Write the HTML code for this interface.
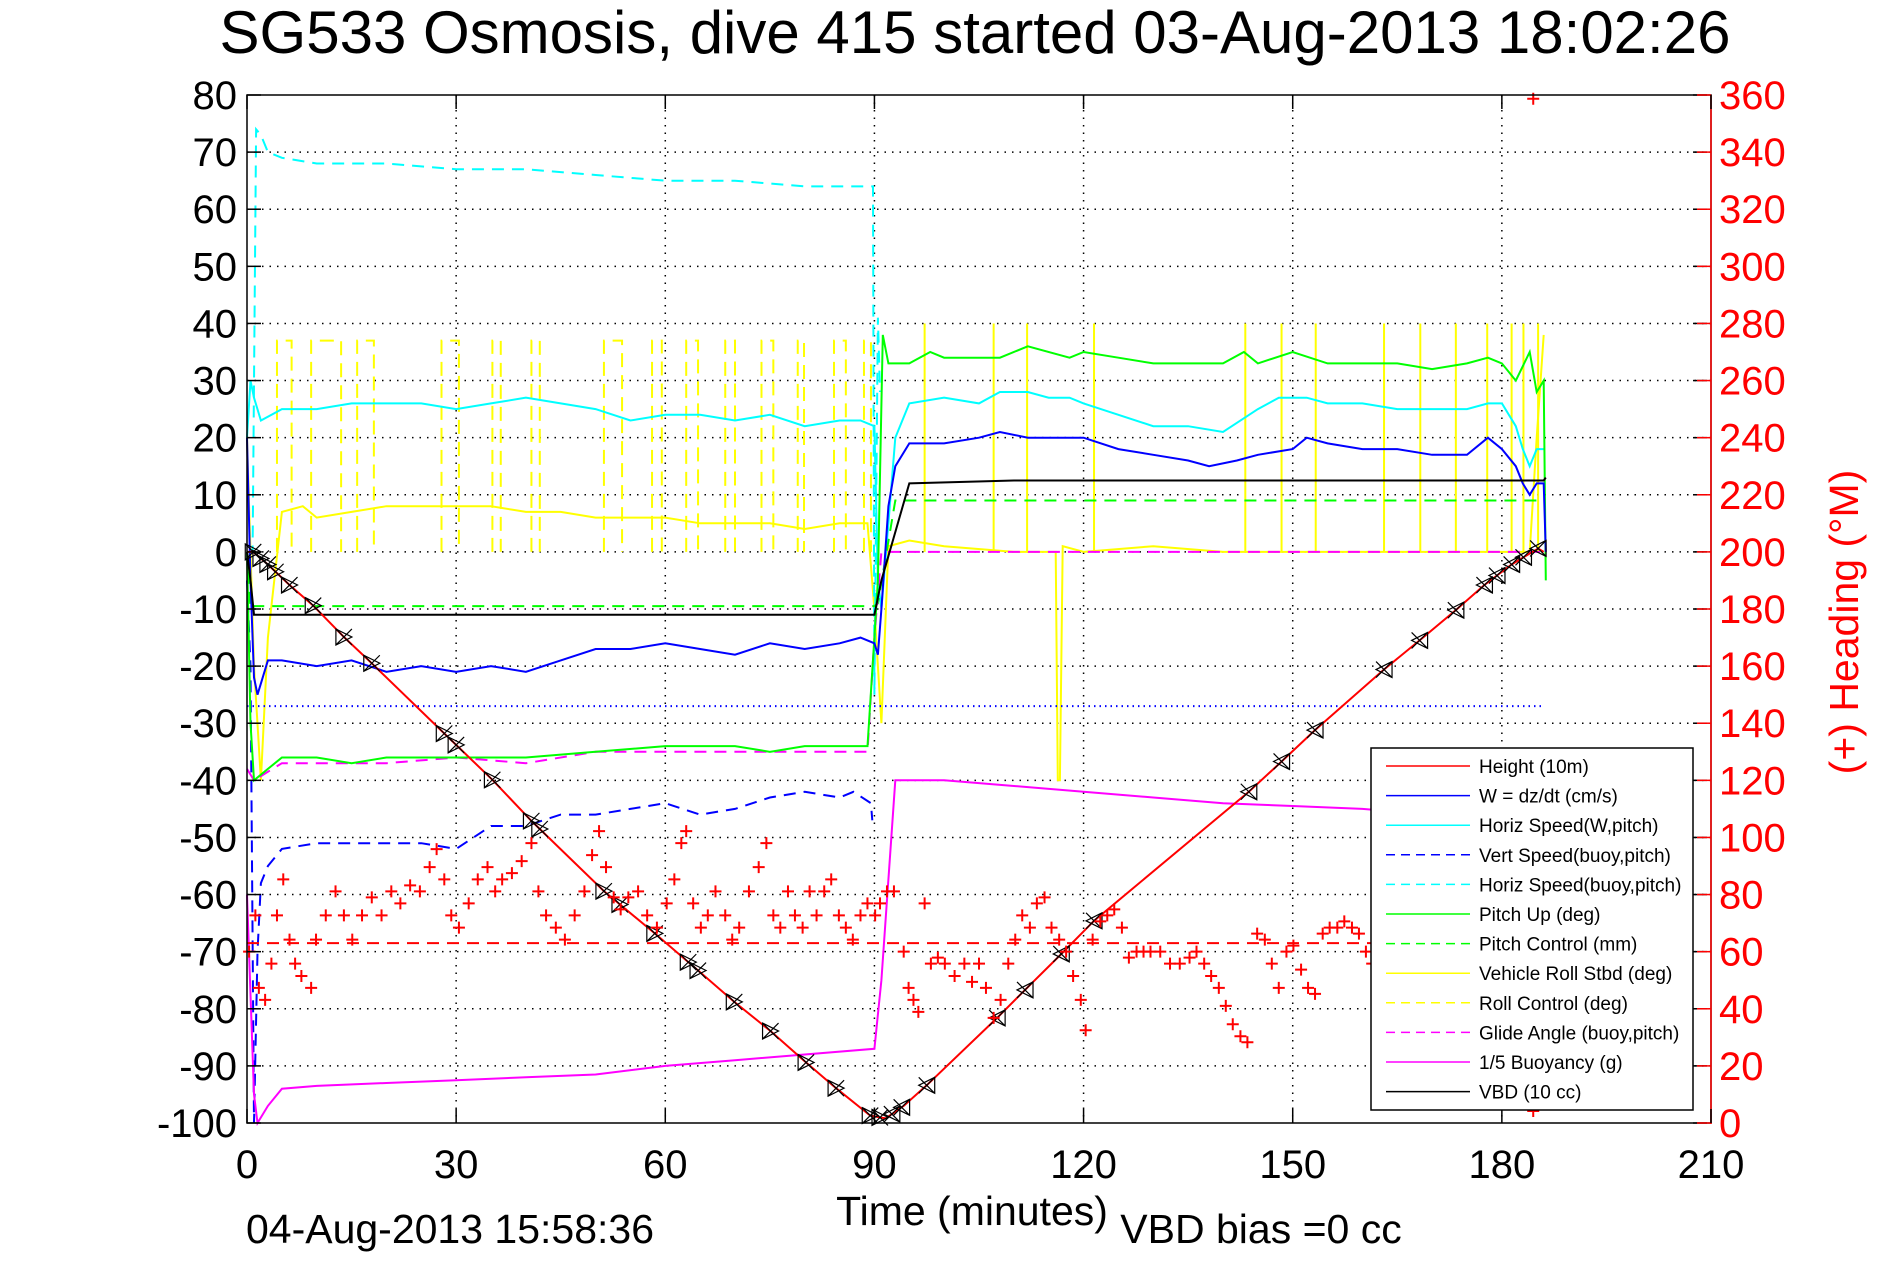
<!DOCTYPE html>
<html><head><meta charset="utf-8"><style>
html,body{margin:0;padding:0;background:#fff;}
svg{display:block;font-family:"Liberation Sans",sans-serif;}
</style></head><body>
<svg id="chart" width="1891" height="1262" viewBox="0 0 1891 1262">
<text x="975" y="53" font-size="60" text-anchor="middle">SG533 Osmosis, dive 415 started 03-Aug-2013 18:02:26</text>
<g id="grid"></g>
<g id="series"></g>
<g id="axes"></g>
<g id="legend"></g>
<text x="972" y="1225" font-size="41" text-anchor="middle">Time (minutes)</text>
<text x="450" y="1243" font-size="41" text-anchor="middle">04-Aug-2013 15:58:36</text>
<text x="1261" y="1243" font-size="41" text-anchor="middle">VBD bias =0 cc</text>
<text transform="translate(1858,622) rotate(-90)" font-size="41" fill="#f00" text-anchor="middle">(+) Heading (°M)</text>
</svg>
<script>
const xTicks=[0,30,60,90,120,150,180,210];
const yTicks=[80,70,60,50,40,30,20,10,0,-10,-20,-30,-40,-50,-60,-70,-80,-90,-100];
const hTicks=[360,340,320,300,280,260,240,220,200,180,160,140,120,100,80,60,40,20,0];

const heightT=[0,0.9,3,6.1,9.5,13.9,17.9,28.3,35.2,40.8,51.2,58.5,64.7,69.9,75.1,80.2,84.5,89.4,91.6,94.2,97.5,107.6,111.6,116.8,121.5,143.7,148.4,153.2,163.1,168.2,173.4,177.5,181.4,185.2,186];
const heightV=[0,0,-2.2,-5.8,-9.4,-14.9,-19.5,-31.8,-39.9,-47.1,-59.4,-66.8,-73.3,-78.8,-83.9,-89.4,-93.9,-98.7,-99.2,-97,-93.4,-81.6,-76.7,-70.4,-64.6,-42,-36.7,-31.2,-20.6,-15.5,-10.2,-5.8,-2.2,0.6,0];
const markerT=[0.9,2,3,4.1,6.1,9.5,13.9,17.9,28.3,30,35.2,40.8,42,51.2,53.5,58.5,63.3,64.7,69.9,75.1,80.2,84.5,89.4,90.8,92.5,93.9,97.5,107.6,111.6,116.8,121.5,143.7,148.4,153.2,163.1,168.2,173.4,177.5,179.3,181.4,183.1,185.2];

const wT=[0,0.5,1,1.5,3,5,10,15,20,25,30,35,40,45,50,55,60,65,70,75,80,85,88,90,90.5,91,92,93,95,100,105,108,112,115,120,125,130,135,138,142,145,150,152,155,160,165,170,175,178,180,182,183,184,185,186,186.3];
const wV=[20,-5,-22,-25,-19,-19,-20,-19,-21,-20,-21,-20,-21,-19,-17,-17,-16,-17,-18,-16,-17,-16,-15,-16,-18,-10,8,15,19,19,20,21,20,20,20,18,17,16,15,16,17,18,20,19,18,18,17,17,20,18,15,12,10,12,12,0];
const vsT=[0,0.5,1,1.5,2,3,5,10,15,20,25,30,35,40,45,50,55,60,65,70,75,80,85,87,89.5,89.7];
const vsV=[-5,-20,-100,-70,-58,-55,-52,-51,-51,-51,-51,-52,-48,-48,-46,-46,-45,-44,-46,-45,-43,-42,-43,-42,-44,-47];
const hsT=[0,0.5,1,2,5,10,15,20,25,30,35,40,45,50,55,60,65,70,75,80,85,88,90,90.5,91,92,93,95,100,105,108,112,115,118,120,125,130,135,140,145,148,152,155,160,165,170,175,178,180,182,183,184,185,186];
const hsV=[20,30,27,23,25,25,26,26,26,25,26,27,26,25,23,24,24,23,24,22,23,23,22,-5,-10,5,20,26,27,26,28,28,27,27,26,24,22,22,21,25,27,27,26,26,25,25,25,26,26,22,18,15,18,18];
const hbT=[0,0.8,1.3,2,3,5,10,20,30,40,50,60,70,80,85,89.8,90,90.5,90.8];
const hbV=[0,0,74,73,70,69,68,68,67,67,66,65,65,64,64,64,-25,41,28];
const pitchT=[0,0.5,1,3,5,10,15,20,30,40,50,60,65,70,75,80,85,89,90,90.5,91.2,92,93,95,98,100,105,108,112,118,120,125,130,140,143,145,150,155,160,165,170,175,178,180,182,184,185,186,186.3];
const pitchV=[0,-30,-40,-38,-36,-36,-37,-36,-36,-36,-35,-34,-34,-34,-35,-34,-34,-34,-15,-5,38,33,33,33,35,34,34,34,36,34,35,34,33,33,35,33,35,33,33,33,32,33,34,33,30,35,28,30,-5];
const pcT=[0,0.5,1,90,90.5,93,186];
const pcV=[0,-10,-9.5,-9.5,-9,9,9];
const glideT=[0,1,5,10,20,30,40,50,60,70,80,89,90,91,186];
const glideV=[-38,-40,-37,-37,-37,-36,-37,-35,-35,-35,-35,-35,-15,0,0];
const buoyT=[0,1,1.5,3,5,10,20,30,40,50,60,70,80,90,91,93,100,110,120,130,140,150,160,165];
const buoyV=[-60,-95,-100,-97,-94,-93.5,-93,-92.5,-92,-91.5,-90,-89,-88,-87,-75,-40,-40,-41,-42,-43,-44,-44.5,-45,-45.5];
const vbdT=[0,0.5,1,90,91,95,110,186,186.3];
const vbdV=[0,-5,-11,-11,-5,12,12.5,12.5,13];
const rollT=[0,0.5,1,2,3,5,8,10,15,20,25,30,35,40,45,50,55,60,65,70,75,80,85,89,90,91,92,95,100,110,116,116.3,116.6,117,120,130,140,150,160,170,180,184,185,186];
const rollV=[20,0,-20,-40,-15,7,8,6,7,8,8,8,8,7,7,6,6,6,5,5,5,4,5,5,-10,-30,1,2,1,0,0,-40,-40,1,0,1,0,0,0,0,0,0,20,38];
const rollPulseDesc=[4.3,6.4,9.2,13.5,15.8,18.2,27.9,30.4,35.2,36.4,40.8,42.0,51.2,53.8,58.1,59.5,63.0,64.7,68.6,70.0,73.8,75.5,79.0,79.9,84.2,85.9,88.5,89.5];
const rollPulseAsc=[97.2,107.1,111.9,121.5,143.2,148.4,153.3,163.1,168.3,173.4,177.9,181.4,183.1,185.2];
const headingMean=63;
const headT=[0.3,1.2,1.7,2.6,3.5,4.3,5.2,6.1,6.9,7.8,9.2,9.9,11.3,12.7,13.9,15.1,16.5,17.9,19.3,20.7,22.0,23.4,24.8,26.2,27.2,28.3,29.3,30.4,31.8,33.1,34.5,35.6,36.6,38.0,39.4,40.8,41.8,42.9,44.3,45.6,47.0,48.4,49.5,50.5,51.5,52.6,53.6,54.7,56.1,57.4,58.8,60.2,61.3,62.3,63.0,64.0,65.1,66.1,67.2,68.6,69.6,70.6,72.0,73.4,74.5,75.5,76.5,77.6,78.6,79.7,80.7,81.7,82.8,83.8,84.9,85.9,86.9,88.0,89.0,90.1,90.8,91.8,92.8,94.2,94.9,95.6,96.3,97.2,98.1,99.1,100.1,101.5,102.9,104.0,105.0,106.0,107.1,108.1,109.2,110.2,111.2,112.3,113.3,114.4,115.4,116.5,117.5,118.5,119.6,120.3,121.3,122.4,123.4,124.4,125.5,126.5,127.6,128.6,129.6,131.0,132.4,133.8,135.2,136.2,137.3,138.3,139.4,140.4,141.4,142.5,143.5,144.9,146.0,147.0,148.0,149.1,150.1,151.2,152.2,153.2,154.3,155.3,156.4,157.4,158.5,159.5,160.5,161.4,184.5,184.5];
const headV=[60,72.7,47.3,43.1,55.8,72.7,85.3,64.2,55.8,51.5,47.3,64.2,72.7,81.1,72.7,64.2,72.7,79,72.7,81.1,76.9,83.2,81.1,89.6,95.9,85.3,72.7,68.4,76.9,85.3,89.6,81.1,85.3,87.5,91.7,98,81.1,72.7,68.4,64.2,72.7,81.1,93.8,102.2,89.6,79,74.8,79,81.1,72.7,68.4,76.9,85.3,98,102.2,76.9,68.4,72.7,81.1,72.7,64.2,68.4,81.1,89.6,98,72.7,68.4,81.1,72.7,68.4,81.1,72.7,81.1,85.3,72.7,68.4,64.2,72.7,76.9,72.7,76.9,81.1,81.1,60,47.3,43.1,38.9,76.9,55.8,57.9,55.8,51.5,55.8,49.4,55.8,47.3,36.8,43.1,55.8,64.2,72.7,68.4,76.9,79,68.4,64.2,60,51.5,43.1,32.5,64.2,70.6,72.7,74.8,68.4,57.9,60,60,60,60,55.8,55.8,57.9,60,55.8,51.5,47.3,41,34.6,30.4,28.3,66.3,64.2,55.8,47.3,60,62.1,53.7,47.3,45.2,66.3,68.4,68.4,70.6,68.4,66.3,60,55.8,358.7,4.2];

const L=247,R=1711,T=95,B=1123;
const X=t=>L+t*(R-L)/210;
const Y=v=>T+(80-v)*(B-T)/180;
const YH=h=>B-h*(B-T)/360;
const NS='http://www.w3.org/2000/svg';
function mk(tag,attrs,parent){const e=document.createElementNS(NS,tag);for(const k in attrs)e.setAttribute(k,attrs[k]);parent.appendChild(e);return e;}
const grid=document.getElementById('grid'),ser=document.getElementById('series'),axes=document.getElementById('axes'),leg=document.getElementById('legend');

xTicks.forEach(t=>{if(t>0&&t<210){const g=mk('line',{x1:X(t),x2:X(t),y1:T,y2:B,stroke:'#000','stroke-width':1.5,'stroke-dasharray':'1.5,6'},grid);

}});
yTicks.forEach(v=>{if(v<80&&v>-100){const g=mk('line',{x1:L,x2:R,y1:Y(v),y2:Y(v),stroke:'#000','stroke-width':1.5,'stroke-dasharray':'1.5,6'},grid);

}});

function path(ts,vs,color,dash,name,yf){let d='';ts.forEach((t,i)=>{d+=(i?'L':'M')+X(t).toFixed(1)+','+(yf||Y)(vs[i]).toFixed(1);});
const p=mk('path',{d:d,fill:'none',stroke:color,'stroke-width':2,'stroke-dasharray':dash||'none'},ser);

return p;}

// roll control pulses (on/off pairs)
for(let i=0;i+1<rollPulseDesc.length;i+=2){const a=rollPulseDesc[i],b=rollPulseDesc[i+1];
const p=mk('path',{d:`M${X(a)},${Y(0)}L${X(a)},${Y(37)}L${X(b)},${Y(37)}L${X(b)},${Y(0)}`,fill:'none',stroke:'#ff0','stroke-width':2,'stroke-dasharray':'14,8'},ser);

}
rollPulseAsc.forEach(t=>{const p=mk('line',{x1:X(t),x2:X(t),y1:Y(0),y2:Y(40),stroke:'#ff0','stroke-width':2},ser);

});
path(rollT,rollV,'#ff0',null,'vehicle-roll-line');
path([0,186],[-27,-27],'#00f','1.5,4','vert-speed-ref-line');
path(vsT,vsV,'#00f','12,8','vert-speed-buoy-line');
path(hbT,hbV,'#0ff','12,8','horiz-speed-buoy-line');
path(hsT,hsV,'#0ff',null,'horiz-speed-line');
path(pcT,pcV,'#0f0','12,8','pitch-control-line');
path(glideT,glideV,'#f0f','12,8','glide-angle-line');
path(pitchT,pitchV,'#0f0',null,'pitch-up-line');
path(wT,wV,'#00f',null,'w-speed-line');
path(buoyT,buoyV,'#f0f',null,'buoyancy-line');
path(vbdT,vbdV,'#000',null,'vbd-line');
path([0,186],[headingMean,headingMean],'#f00','12,8','heading-mean-line',YH);
path(heightT,heightV,'#f00',null,'height-line');
markerT.forEach((t,i)=>{let j=1;while(j<heightT.length-1&&heightT[j]<t)j++;
const t0=heightT[j-1],t1=heightT[j];const v=heightV[j-1]+(heightV[j]-heightV[j-1])*(t-t0)/(t1-t0||1);
const x=X(t),y=Y(v),s=8,dir=t<91?-1:1;
const g=mk('path',{d:`M${x+dir*s},${y-s}L${x-dir*s},${y}L${x+dir*s},${y+s}Z M${x-s},${y-s}L${x+s},${y+s}M${x-s},${y+s}L${x+s},${y-s}`,fill:'none',stroke:'#000','stroke-width':1.2},ser);

});
headT.forEach((t,i)=>{const x=X(t),y=YH(headV[i]);
const p=mk('path',{d:`M${x-6},${y}L${x+6},${y}M${x},${y-6}L${x},${y+6}`,stroke:'#f00','stroke-width':2},ser);

});

const box=mk('rect',{x:L,y:T,width:R-L,height:B-T,fill:'none',stroke:'#000','stroke-width':1.5},axes);


const rax=mk('line',{x1:R,x2:R,y1:T,y2:B+1,stroke:'#f00','stroke-width':1.5},axes);


yTicks.forEach(v=>{mk('line',{x1:L,x2:L+14,y1:Y(v),y2:Y(v),stroke:'#000','stroke-width':1.5},axes);
mk('line',{x1:R-18,x2:R-4,y1:Y(v),y2:Y(v),stroke:'#000','stroke-width':1.5},axes);
const tx=mk('text',{x:L-10,y:Y(v)+14,'font-size':40,'text-anchor':'end'},axes);tx.textContent=v;

});
hTicks.forEach(h=>{mk('line',{x1:R-14,x2:R,y1:YH(h),y2:YH(h),stroke:'#f00','stroke-width':1.5},axes);
const tx=mk('text',{x:R+8,y:YH(h)+14,'font-size':40,fill:'#f00'},axes);tx.textContent=h;

});
xTicks.forEach(t=>{mk('line',{x1:X(t),x2:X(t),y1:B,y2:B-14,stroke:'#000','stroke-width':1.5},axes);
mk('line',{x1:X(t),x2:X(t),y1:T,y2:T+14,stroke:'#000','stroke-width':1.5},axes);
const tx=mk('text',{x:X(t),y:1178,'font-size':40,'text-anchor':'middle'},axes);tx.textContent=t;

});

const lg=mk('rect',{x:1371,y:748,width:322,height:362,fill:'#fff',stroke:'#000','stroke-width':1.5},leg);


const legLabels=['Height (10m)','W = dz/dt (cm/s)','Horiz Speed(W,pitch)','Vert Speed(buoy,pitch)','Horiz Speed(buoy,pitch)','Pitch Up (deg)','Pitch Control (mm)','Vehicle Roll Stbd (deg)','Roll Control (deg)','Glide Angle (buoy,pitch)','1/5 Buoyancy (g)','VBD (10 cc)'];
const legColors=['#f00','#00f','#0ff','#00f','#0ff','#0f0','#0f0','#ff0','#ff0','#f0f','#f0f','#000'];
const legDash=[0,0,0,1,1,0,1,0,1,1,0,0];
legLabels.forEach((s,i)=>{const y=766+i*29.6;
mk('line',{x1:1386,x2:1470,y1:y,y2:y,stroke:legColors[i],'stroke-width':1.5,'stroke-dasharray':legDash[i]?'9,6':'none'},leg);
const tx=mk('text',{x:1479,y:y+7,'font-size':19},leg);tx.textContent=s;

});
</script>
</body></html>
